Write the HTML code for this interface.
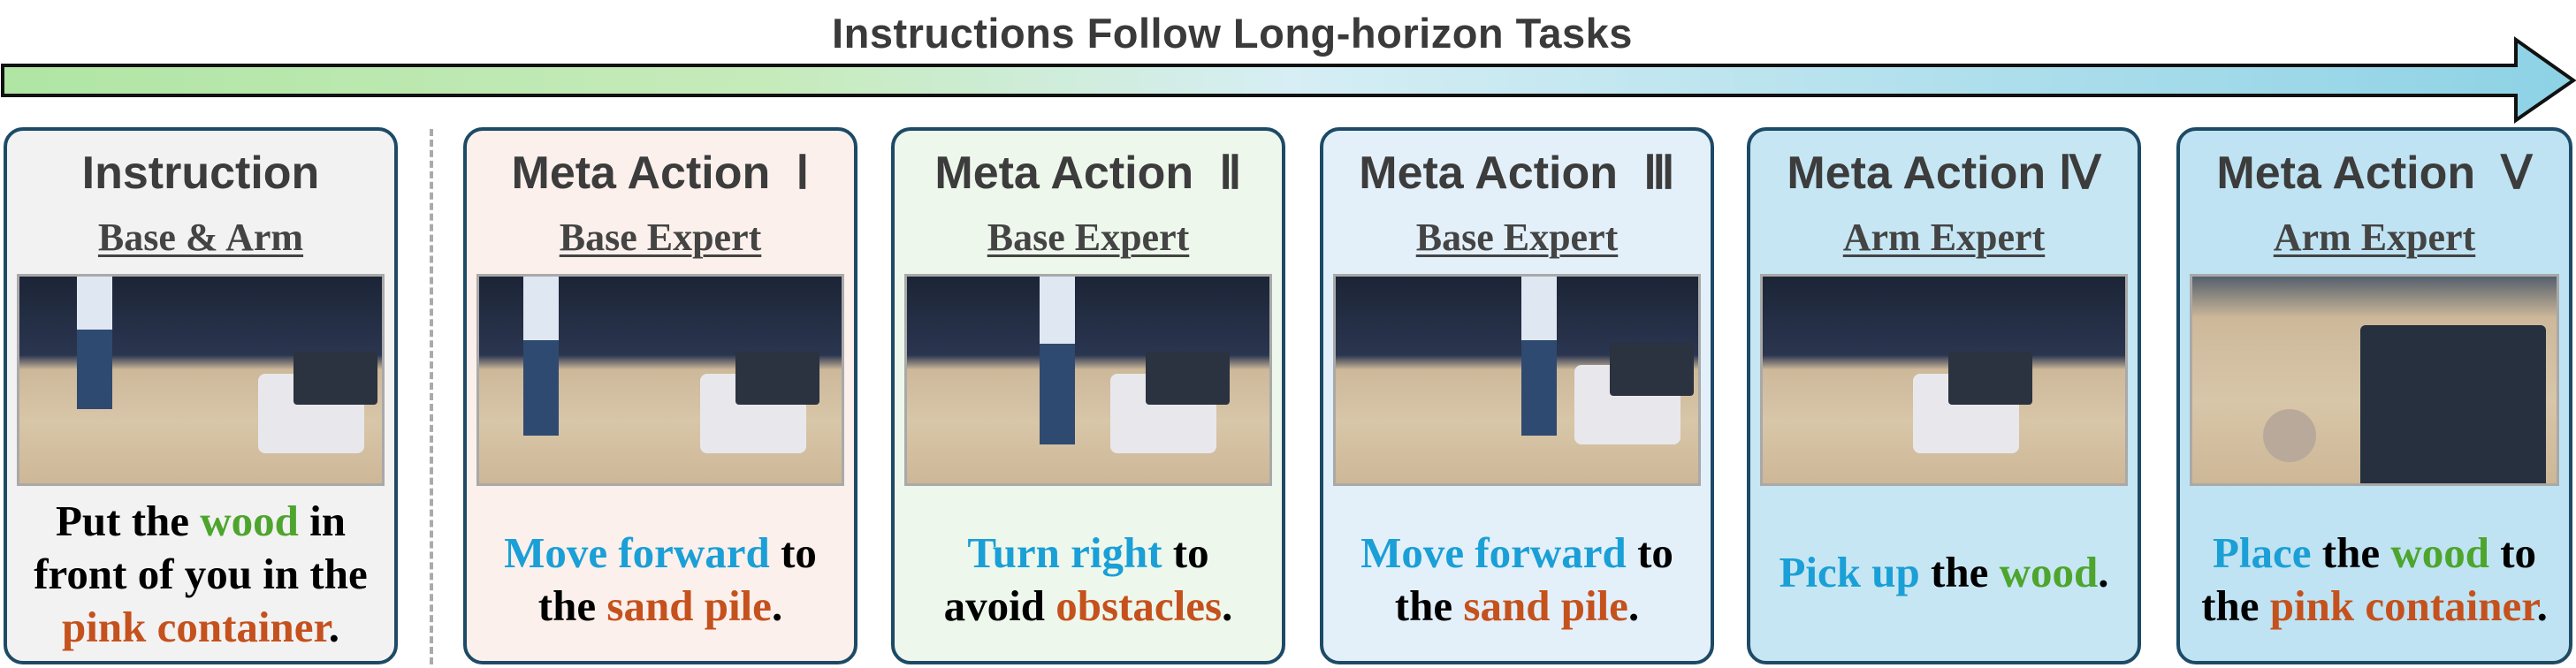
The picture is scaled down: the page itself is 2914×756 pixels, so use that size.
<!DOCTYPE html>
<html><head><meta charset="utf-8"><style>
*{margin:0;padding:0;box-sizing:border-box}
body{width:2914px;height:756px;background:#fff;position:relative;overflow:hidden;font-family:"Liberation Sans",sans-serif}
.title{position:absolute;left:0;width:2788px;top:10px;text-align:center;font-size:47px;font-weight:bold;color:#3a3a3a;letter-spacing:0.5px}
.card{position:absolute;top:144px;width:446px;height:608px;border:4px solid #1d4a66;border-radius:22px}
.h{position:absolute;left:0;right:0;top:18px;text-align:center;font-size:52px;font-weight:bold;color:#3c3c3c}
.sub{position:absolute;left:0;right:0;top:95px;text-align:center;font-family:"Liberation Serif",serif;font-weight:bold;font-size:44px;color:#444;text-decoration:underline;text-decoration-thickness:3px;text-underline-offset:5px}
.img{position:absolute;left:11px;right:11px;top:162px;height:240px;border:3px solid #a9a9a9;background:linear-gradient(to bottom,#1c2536 0%,#2a3550 38%,#cdb89a 45%,#d8c6a8 70%,#cdb797 100%);overflow:hidden}
.robot{position:absolute;width:120px;height:90px;background:#e8e8ec;border-radius:8px}
.robot::after{content:"";position:absolute;left:40px;top:-25px;width:95px;height:60px;background:#2b3240;border-radius:4px}
.person{position:absolute;width:40px;height:150px;top:0;background:linear-gradient(to bottom,#dfe8f2 0 40%,#2f4a70 40%)}
.txt{position:absolute;left:0;right:0;text-align:center;font-family:"Liberation Serif",serif;font-weight:bold;font-size:49px;line-height:60px;color:#000}
.b{color:#1a9fd6}.g{color:#4ea52e}.o{color:#c5511d}
</style></head><body>
<div class="title">Instructions Follow Long-horizon Tasks</div>
<svg style="position:absolute;left:0;top:0" width="2914" height="140">
<defs><linearGradient id="ag" x1="0" x2="1"><stop offset="0" stop-color="#b0e5a4"/><stop offset="0.3" stop-color="#c6ebbb"/><stop offset="0.5" stop-color="#d6eef4"/><stop offset="1" stop-color="#8dd2e5"/></linearGradient></defs>
<polygon points="3,74 2846,74 2846,45 2911,91 2846,136 2846,108 3,108" fill="url(#ag)" stroke="#111" stroke-width="4"/>
</svg>
<div style="position:absolute;left:486px;top:146px;height:606px;border-left:4px dashed #aaa"></div>

<div class="card" style="left:4px;background:#f2f2f2">
<div class="h">Instruction</div><div class="sub">Base &amp; Arm</div>
<div class="img"><div class="person" style="left:65px"></div><div class="robot" style="left:270px;top:110px"></div></div>
<div class="txt" style="top:412px">Put the <span class="g">wood</span> in<br>front of you in the<br><span class="o">pink container</span>.</div>
</div>

<div class="card" style="left:524px;background:#fbf0ec">
<div class="h">Meta Action&nbsp; Ⅰ</div><div class="sub">Base Expert</div>
<div class="img"><div class="person" style="left:50px;height:180px"></div><div class="robot" style="left:250px;top:110px"></div></div>
<div class="txt" style="top:448px"><span class="b">Move forward</span> to<br>the <span class="o">sand pile</span>.</div>
</div>

<div class="card" style="left:1008px;background:#eef7ec">
<div class="h">Meta Action&nbsp; Ⅱ</div><div class="sub">Base Expert</div>
<div class="img"><div class="person" style="left:150px;height:190px"></div><div class="robot" style="left:230px;top:110px"></div></div>
<div class="txt" style="top:448px"><span class="b">Turn right</span> to<br>avoid <span class="o">obstacles</span>.</div>
</div>

<div class="card" style="left:1493px;background:#e3f0fa">
<div class="h">Meta Action&nbsp; Ⅲ</div><div class="sub">Base Expert</div>
<div class="img"><div class="person" style="left:210px;height:180px"></div><div class="robot" style="left:270px;top:100px"></div></div>
<div class="txt" style="top:448px"><span class="b">Move forward</span> to<br>the <span class="o">sand pile</span>.</div>
</div>

<div class="card" style="left:1976px;background:#c6e6f3">
<div class="h">Meta Action Ⅳ</div><div class="sub">Arm Expert</div>
<div class="img"><div class="robot" style="left:170px;top:110px"></div></div>
<div class="txt" style="top:470px"><span class="b">Pick up</span> the <span class="g">wood</span>.</div>
</div>

<div class="card" style="left:2462px;width:448px;background:#bfe3f2">
<div class="h">Meta Action&nbsp; Ⅴ</div><div class="sub">Arm Expert</div>
<div class="img" style="background:linear-gradient(to bottom,#55606c 0%,#cdb89a 20%,#d8c6a8 60%,#cdb797 100%)"><div style="position:absolute;left:190px;top:55px;width:210px;height:185px;background:#26303e;border-radius:6px"></div><div style="position:absolute;left:80px;top:150px;width:60px;height:60px;background:#b9a99a;border-radius:50%"></div></div>
<div class="txt" style="top:448px"><span class="b">Place</span> the <span class="g">wood</span> to<br>the <span class="o">pink container</span>.</div>
</div>
</body></html>
